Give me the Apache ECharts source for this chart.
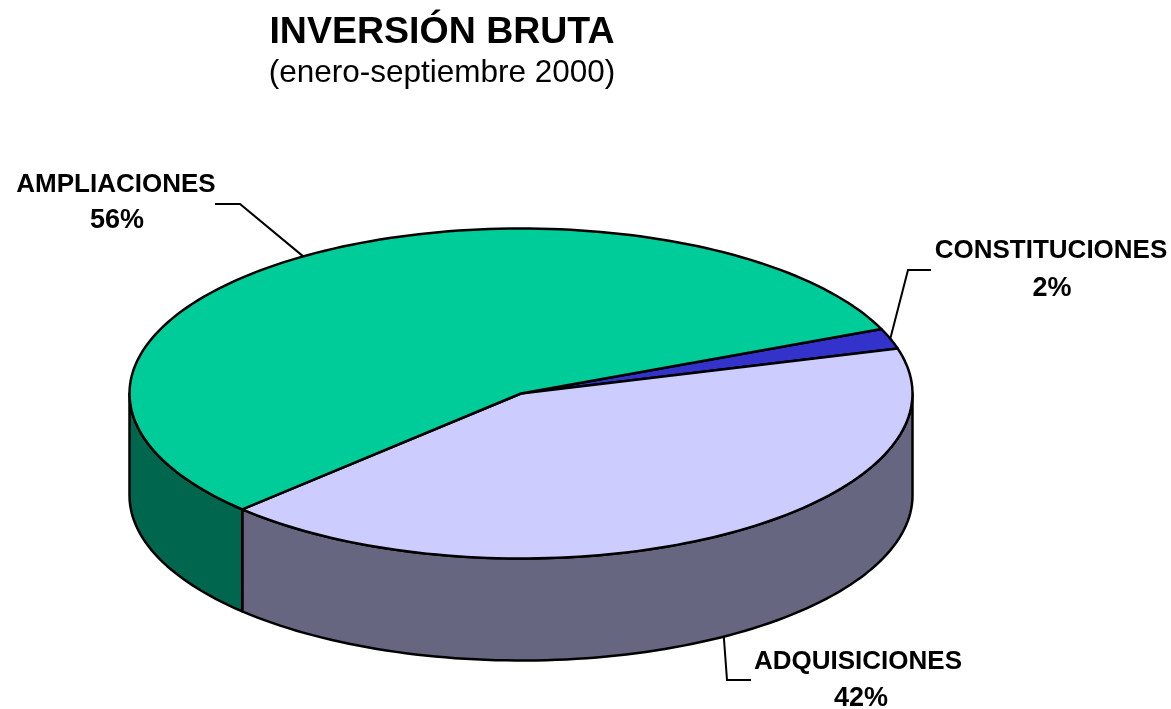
<!DOCTYPE html>
<html>
<head>
<meta charset="utf-8">
<title>Inversión bruta</title>
<style>
  html, body { margin: 0; padding: 0; background: #fff; }
  #main { width: 1171px; height: 709px; }
</style>
<script src="https://cdn.jsdelivr.net/npm/echarts@6/dist/echarts.min.js"></script>
</head>
<body>
<div id="main"></div>
<script>
const sliceNames = ['CONSTITUCIONES', 'ADQUISICIONES', 'AMPLIACIONES'];
const sliceValues = [2, 42, 56];
const topColors = ['#3333cc', '#ccccff', '#00cc99'];
const wallColors = ['#1a1a66', '#666680', '#00664d'];

// label boxes and the elbow of each leader, same order as sliceNames
const labelPlaces = [
  { x: 1051, y: 251, pctX: 1052, pctY: 289, elbow: [908, 270], end: [931, 270], wall: false, nudge: 0 },
  { x: 858, y: 662, pctX: 861, pctY: 699, elbow: [727, 680], end: [751, 680], wall: true, nudge: -1 },
  { x: 116, y: 185, pctX: 117, pctY: 221, elbow: [240, 204], end: [215, 204], wall: false, nudge: 0 }
];

const chart = echarts.init(document.getElementById('main'));

const cx = 521, cy = 393.5, rx = 391.5, ry = 165, depth = 102;
const firstAngle = -23;
const total = sliceValues.reduce(function(a, b) { return a + b; }, 0);

function rim(deg, drop) {
  const t = deg * Math.PI / 180;
  return [cx + rx * Math.cos(t), cy + ry * Math.sin(t) + (drop || 0)];
}

function arc(from, to, drop) {
  const pts = [];
  const steps = Math.max(2, Math.ceil(Math.abs(to - from) / 1.5));
  for (let i = 0; i <= steps; i++) {
    pts.push(rim(from + (to - from) * i / steps, drop));
  }
  return pts;
}

function renderSlice(params, api) {
  const i = params.dataIndex;
  let before = 0;
  for (let k = 0; k < i; k++) before += sliceValues[k];
  const a0 = firstAngle + before / total * 360;
  const a1 = a0 + api.value(0) / total * 360;
  const children = [];

  // side wall, only the part facing the viewer
  const w0 = Math.max(a0, 0), w1 = Math.min(a1, 180);
  if (w1 > w0) {
    children.push({
      type: 'polygon',
      shape: { points: arc(w0, w1, 0).concat(arc(w1, w0, depth)) },
      style: { fill: wallColors[i], stroke: '#000', lineWidth: 2.5, lineJoin: 'round' }
    });
  }
  children.push({
    type: 'polygon',
    shape: { points: [[cx, cy]].concat(arc(a0, a1, 0)) },
    style: { fill: topColors[i], stroke: '#000', lineWidth: 2.5, lineJoin: 'round' }
  });

  // leader starts on the rim at the middle of the slice
  const place = labelPlaces[i];
  children.push({
    type: 'polyline',
    shape: { points: [rim((a0 + a1) / 2 + place.nudge, place.wall ? depth : 0), place.elbow, place.end] },
    style: { fill: null, stroke: '#000', lineWidth: 2 }
  });
  const family = '"Liberation Sans", Arial, sans-serif';
  children.push({
    type: 'text',
    style: { x: place.x, y: place.y, text: sliceNames[i], font: 'bold 26px ' + family, fill: '#000', align: 'center', verticalAlign: 'middle' }
  });
  children.push({
    type: 'text',
    style: { x: place.pctX, y: place.pctY, text: api.value(0) + '%', font: 'bold 27px ' + family, fill: '#000', align: 'center', verticalAlign: 'middle' }
  });
  return { type: 'group', children: children };
}

chart.setOption({
  animation: false,
  title: {
    text: 'INVERSIÓN BRUTA',
    subtext: '(enero-septiembre 2000)',
    left: 437,
    top: 9,
    textAlign: 'center',
    itemGap: 5,
    textStyle: { fontFamily: '"Liberation Sans", Arial, sans-serif', fontSize: 37.5, fontWeight: 'bold', color: '#000' },
    subtextStyle: { fontFamily: '"Liberation Sans", Arial, sans-serif', fontSize: 31.5, color: '#000' }
  },
  series: [{
    type: 'custom',
    coordinateSystem: 'none',
    renderItem: renderSlice,
    data: sliceValues.map(function(v, i) {
      return { name: sliceNames[i], value: [v] };
    })
  }]
});

window.onresize = function() {
  chart.resize();
};
</script>
</body>
</html>
